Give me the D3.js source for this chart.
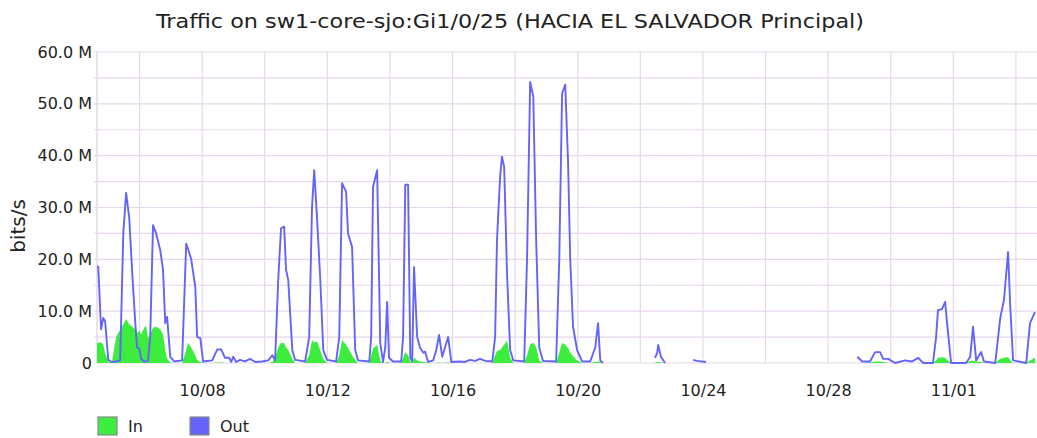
<!DOCTYPE html>
<html>
<head>
<meta charset="utf-8">
<script src="https://cdn.jsdelivr.net/npm/d3@7"></script>
<style>
  body { margin: 0; background: #fff; }
  .chart text { font-family: "DejaVu Sans", sans-serif; fill: #222; }
</style>
</head>
<body>
<div class="chart"></div>
<script>
// sample times, as fractional day of October 2023 (32 = Nov 1); null rows = no data
const days = [
  4.64, 4.68, 4.77, 4.84, 4.90, 5.00, 5.12, 5.25, 5.38, 5.48, 5.57, 5.67, 5.76, 5.86, 5.92, 5.99,
  6.05, 6.15, 6.21, 6.27, 6.34, 6.43, 6.53, 6.66, 6.75, 6.82, 6.88, 6.98, 7.11, 7.36, 7.49, 7.55,
  7.65, 7.78, 7.84, 7.94, 8.03, 8.32, 8.48, 8.61, 8.73, 8.86, 8.93, 8.99, 9.09, 9.21, 9.37, 9.53,
  9.69, 9.92, 10.11, 10.24, 10.33, 10.43, 10.52, 10.62, 10.68, 10.75, 10.88, 10.97, 11.29, 11.42,
  11.51, 11.58, 11.67, 11.77, 11.87, 11.99, 12.28, 12.38, 12.47, 12.60, 12.66, 12.79, 12.89, 12.98,
  13.34, 13.40, 13.46, 13.59, 13.69, 13.78, 13.85, 13.91, 13.97, 14.10, 14.36, 14.42, 14.49, 14.58,
  14.65, 14.71, 14.77, 14.87, 14.96, 15.06, 15.12, 15.22, 15.38, 15.48, 15.57, 15.67, 15.86, 15.96,
  16.24, 16.40, 16.56, 16.72, 16.88, 17.04, 17.27, 17.36, 17.42, 17.52, 17.58, 17.65, 17.74, 17.84,
  17.94, 18.29, 18.38, 18.48, 18.58, 18.67, 18.77, 18.89, 19.31, 19.41, 19.50, 19.60, 19.69, 19.76,
  19.85, 19.98, 20.14, 20.40, 20.56, 20.65, 20.72, 20.81,
  21.5,
  22.47, 22.54, 22.57, 22.66, 22.79,
  23.3,
  23.69, 23.81, 24.10,
  26.0,
  28.93, 29.09, 29.34, 29.50, 29.66, 29.76, 29.92, 30.14, 30.46, 30.68, 30.88, 31.04, 31.35, 31.45,
  31.51, 31.64, 31.74, 31.80, 31.93, 32.41, 32.54, 32.63, 32.73, 32.89, 32.98, 33.34, 33.50, 33.62,
  33.75, 33.82, 33.91, 34.33, 34.45, 34.61
];

// Out traffic, Mbit/s
const outValues = [
  18.6, 18.6, 6.5, 8.7, 8.0, 0.6, 0.2, 0.3, 0.5, 25, 32.8, 28, 18, 8, 3, 2.8,
  0.8, 0.3, 0.3, 0.4, 5, 26.6, 25, 21.8, 18, 7.7, 8.9, 1.2, 0.3, 0.5, 23, 22,
  20, 14.7, 5, 4.8, 0.3, 0.5, 2.6, 2.6, 1.0, 1.0, 0.2, 1.2, 0.2, 0.6, 0.3, 0.8,
  0.2, 0.3, 0.5, 1.5, 0.5, 16, 26, 26.3, 18, 16, 2.5, 0.6, 0.3, 5,
  30, 37.2, 28, 16.6, 2.5, 0.6, 0.3, 5, 34.7, 33, 25, 22.4, 2.5, 0.5,
  0.3, 5, 34, 37.2, 3.8, 0.2, 3, 11.8, 1, 0.3, 0.3, 5, 34.4, 34.4,
  1, 0.3, 18.5, 5, 3, 2, 2.2, 0.2, 0.5, 2.5, 5.4, 1.2, 5, 0.2,
  0.3, 0.2, 0.6, 0.4, 0.8, 0.4, 0.3, 5, 23.7, 36, 39.8, 37.8, 17.4, 2.5,
  0.5, 0.3, 20, 54.2, 51.4, 24, 3, 0.4, 0.3, 20, 52, 53.7, 39, 20,
  7, 2.5, 0.3, 0.3, 3, 7.7, 0.5, 0,
  null,
  1.0, 2, 3.5, 1.2, 0,
  null,
  0.6, 0.4, 0.2,
  null,
  1.2, 0.3, 0.3, 2.1, 2.1, 0.8, 0.8, 0, 0.5, 0.3, 1.0, 0, 0, 5,
  10.2, 10.4, 11.8, 7.7, 0, 0, 1.2, 7, 0.5, 2.1, 0.3, 0, 8.7, 12.2,
  21.4, 10.8, 0.5, 0, 7.7, 9.8
];

// In traffic, Mbit/s
const inValues = [
  3.9, 3.9, 4.0, 3.5, 2.0, 0.2, 0.3, 5.0, 6.4, 7.5, 8.5, 7.5, 7.0, 6.5, 5.8, 6.2,
  5.5, 6.8, 7.2, 4.8, 5.5, 6.8, 7.0, 6.5, 5.5, 2.5, 0.8, 0.1, 0, 0, 2.5, 3.9,
  3.0, 1.5, 0.6, 0.2, 0, 0, 0.1, 0.1, 0, 0, 0, 0, 0, 0, 0, 0,
  0, 0, 0, 0.2, 1.0, 3.0, 3.9, 3.8, 3.0, 2.5, 0.8, 0, 0, 1.5,
  4.4, 3.9, 4.2, 2.5, 0.8, 0, 0, 1.5, 4.4, 3.5, 2.9, 1.5, 0.6, 0,
  0, 1.5, 2.8, 3.5, 0.5, 0, 0, 0.3, 0, 0, 0, 1.0, 2.1, 1.5,
  0.3, 0, 1.0, 0.5, 0.3, 0.2, 0.2, 0, 0, 0, 0.1, 0, 0.1, 0,
  0, 0, 0, 0, 0, 0, 0, 1.5, 2.3, 2.5, 3.0, 3.5, 4.4, 1.0,
  0, 0, 1.5, 3.5, 3.9, 3.1, 0.5, 0, 0, 2.0, 3.9, 3.5, 2.9, 2.0,
  1.3, 0.5, 0, 0, 0.2, 0.3, 0.2, 0,
  null,
  0.1, 0.2, 0.2, 0.1, 0,
  null,
  0, 0, 0,
  null,
  0, 0, 0.1, 0.3, 0.3, 0.2, 0, 0, 0, 0, 0, 0, 0, 0.5,
  1.0, 1.1, 1.0, 0.6, 0, 0, 0.4, 0.5, 0.3, 0.2, 0, 0, 0.8, 1.0,
  1.1, 0.5, 0, 0, 0.5, 1.0
];

const tickDays = [8, 12, 16, 20, 24, 28, 32];
const yTicks = [0, 10, 20, 30, 40, 50, 60];
const seriesNames = ["In", "Out"];
const seriesColors = ["#3ded3d", "#6464fa"];

const width = 1037, height = 438;
const margin = {top: 52, right: 2, bottom: 75, left: 97};
const gridColor = "#e6d8ea";

const toDate = d => new Date(2023, 9, 1, 0, 0).getTime() + (d - 1) * 864e5;
const data = days.map((d, i) => ({t: new Date(toDate(d)), inV: inValues[i], outV: outValues[i]}));

let svg = d3.select(".chart")
  .append("svg")
    .attr("width", width)
    .attr("height", height);

let x = d3.scaleTime()
  .domain([new Date(toDate(days[0])), new Date(toDate(days[days.length - 1]))])
  .range([margin.left, width - margin.right]);

let y = d3.scaleLinear()
  .domain([0, 60])
  .range([height - margin.bottom, margin.top]);

// grid
let grid = svg.append("g").attr("id", "grid");
grid.selectAll(".hgrid")
  .data(d3.range(0, 61, 5))
  .join("line")
    .attr("x1", margin.left - 3)
    .attr("x2", width)
    .attr("y1", d => y(d))
    .attr("y2", d => y(d))
    .attr("stroke", gridColor)
    .attr("stroke-width", 1.2);

let gridDays = d3.timeDay.range(x.domain()[0], x.domain()[1])
  .filter(d => Math.round((d - new Date(2023, 9, 8)) / 864e5) % 2 == 0);
grid.selectAll(".vgrid")
  .data(gridDays)
  .join("line")
    .attr("x1", d => x(d))
    .attr("x2", d => x(d))
    .attr("y1", margin.top)
    .attr("y2", y(0))
    .attr("stroke", gridColor)
    .attr("stroke-width", 1.2);

grid.append("line")
  .attr("x1", margin.left).attr("x2", margin.left)
  .attr("y1", margin.top).attr("y2", y(0))
  .attr("stroke", gridColor)
  .attr("stroke-width", 1.5);

// In area
let area = d3.area()
  .defined(d => d.inV != null)
  .x(d => x(d.t))
  .y0(y(0))
  .y1(d => y(d.inV));

svg.append("path")
  .datum(data)
  .attr("id", "in-area")
  .attr("fill", seriesColors[0])
  .attr("d", area);

// Out line
let line = d3.line()
  .defined(d => d.outV != null)
  .x(d => x(d.t))
  .y(d => y(d.outV));

svg.append("path")
  .datum(data)
  .attr("id", "out-line")
  .attr("fill", "none")
  .attr("stroke", seriesColors[1])
  .attr("stroke-width", 1.9)
  .attr("stroke-linejoin", "round")
  .attr("d", line);

// axes
let yAxis = svg.append("g")
  .attr("id", "y-axis")
  .attr("transform", "translate(" + margin.left + ",0)")
  .call(d3.axisLeft(y)
    .tickValues(yTicks)
    .tickSize(0)
    .tickPadding(5)
    .tickFormat(d => d == 0 ? "0" : d.toFixed(1) + " M"));
yAxis.select(".domain").remove();
yAxis.selectAll("text")
  .attr("font-size", 16)
  .attr("font-family", "DejaVu Sans")
  .attr("fill", "#222");

let xAxis = svg.append("g")
  .attr("id", "x-axis")
  .attr("transform", "translate(0," + y(0) + ")")
  .call(d3.axisBottom(x)
    .tickValues(tickDays.map(d => new Date(toDate(d))))
    .tickSize(0)
    .tickPadding(22)
    .tickFormat(d3.timeFormat("%m/%d")));
xAxis.select(".domain").remove();
xAxis.selectAll("text")
  .attr("font-size", 16)
  .attr("font-family", "DejaVu Sans")
  .attr("fill", "#222");

// labels
svg.append("text")
  .attr("x", 510)
  .attr("y", 28)
  .attr("text-anchor", "middle")
  .attr("font-size", 20)
  .attr("textLength", 708)
  .attr("lengthAdjust", "spacingAndGlyphs")
  .text("Traffic on sw1-core-sjo:Gi1/0/25 (HACIA EL SALVADOR Principal)");

svg.append("text")
  .attr("transform", "translate(25,226) rotate(-90)")
  .attr("text-anchor", "middle")
  .attr("font-size", 20)
  .text("bits/s");

// legend
let legend = svg.append("g")
  .attr("id", "legend")
  .selectAll("g")
  .data(seriesNames)
  .join("g")
    .attr("transform", (d, i) => "translate(" + (98 + i * 92) + ",417)");

legend.append("rect")
  .attr("width", 19)
  .attr("height", 18)
  .attr("fill", (d, i) => seriesColors[i])
  .attr("stroke", "#8a8a8a")
  .attr("stroke-width", 1.2);

legend.append("text")
  .attr("x", 30)
  .attr("y", 15)
  .attr("font-size", 16)
  .text(d => d);
</script>
</body>
</html>
